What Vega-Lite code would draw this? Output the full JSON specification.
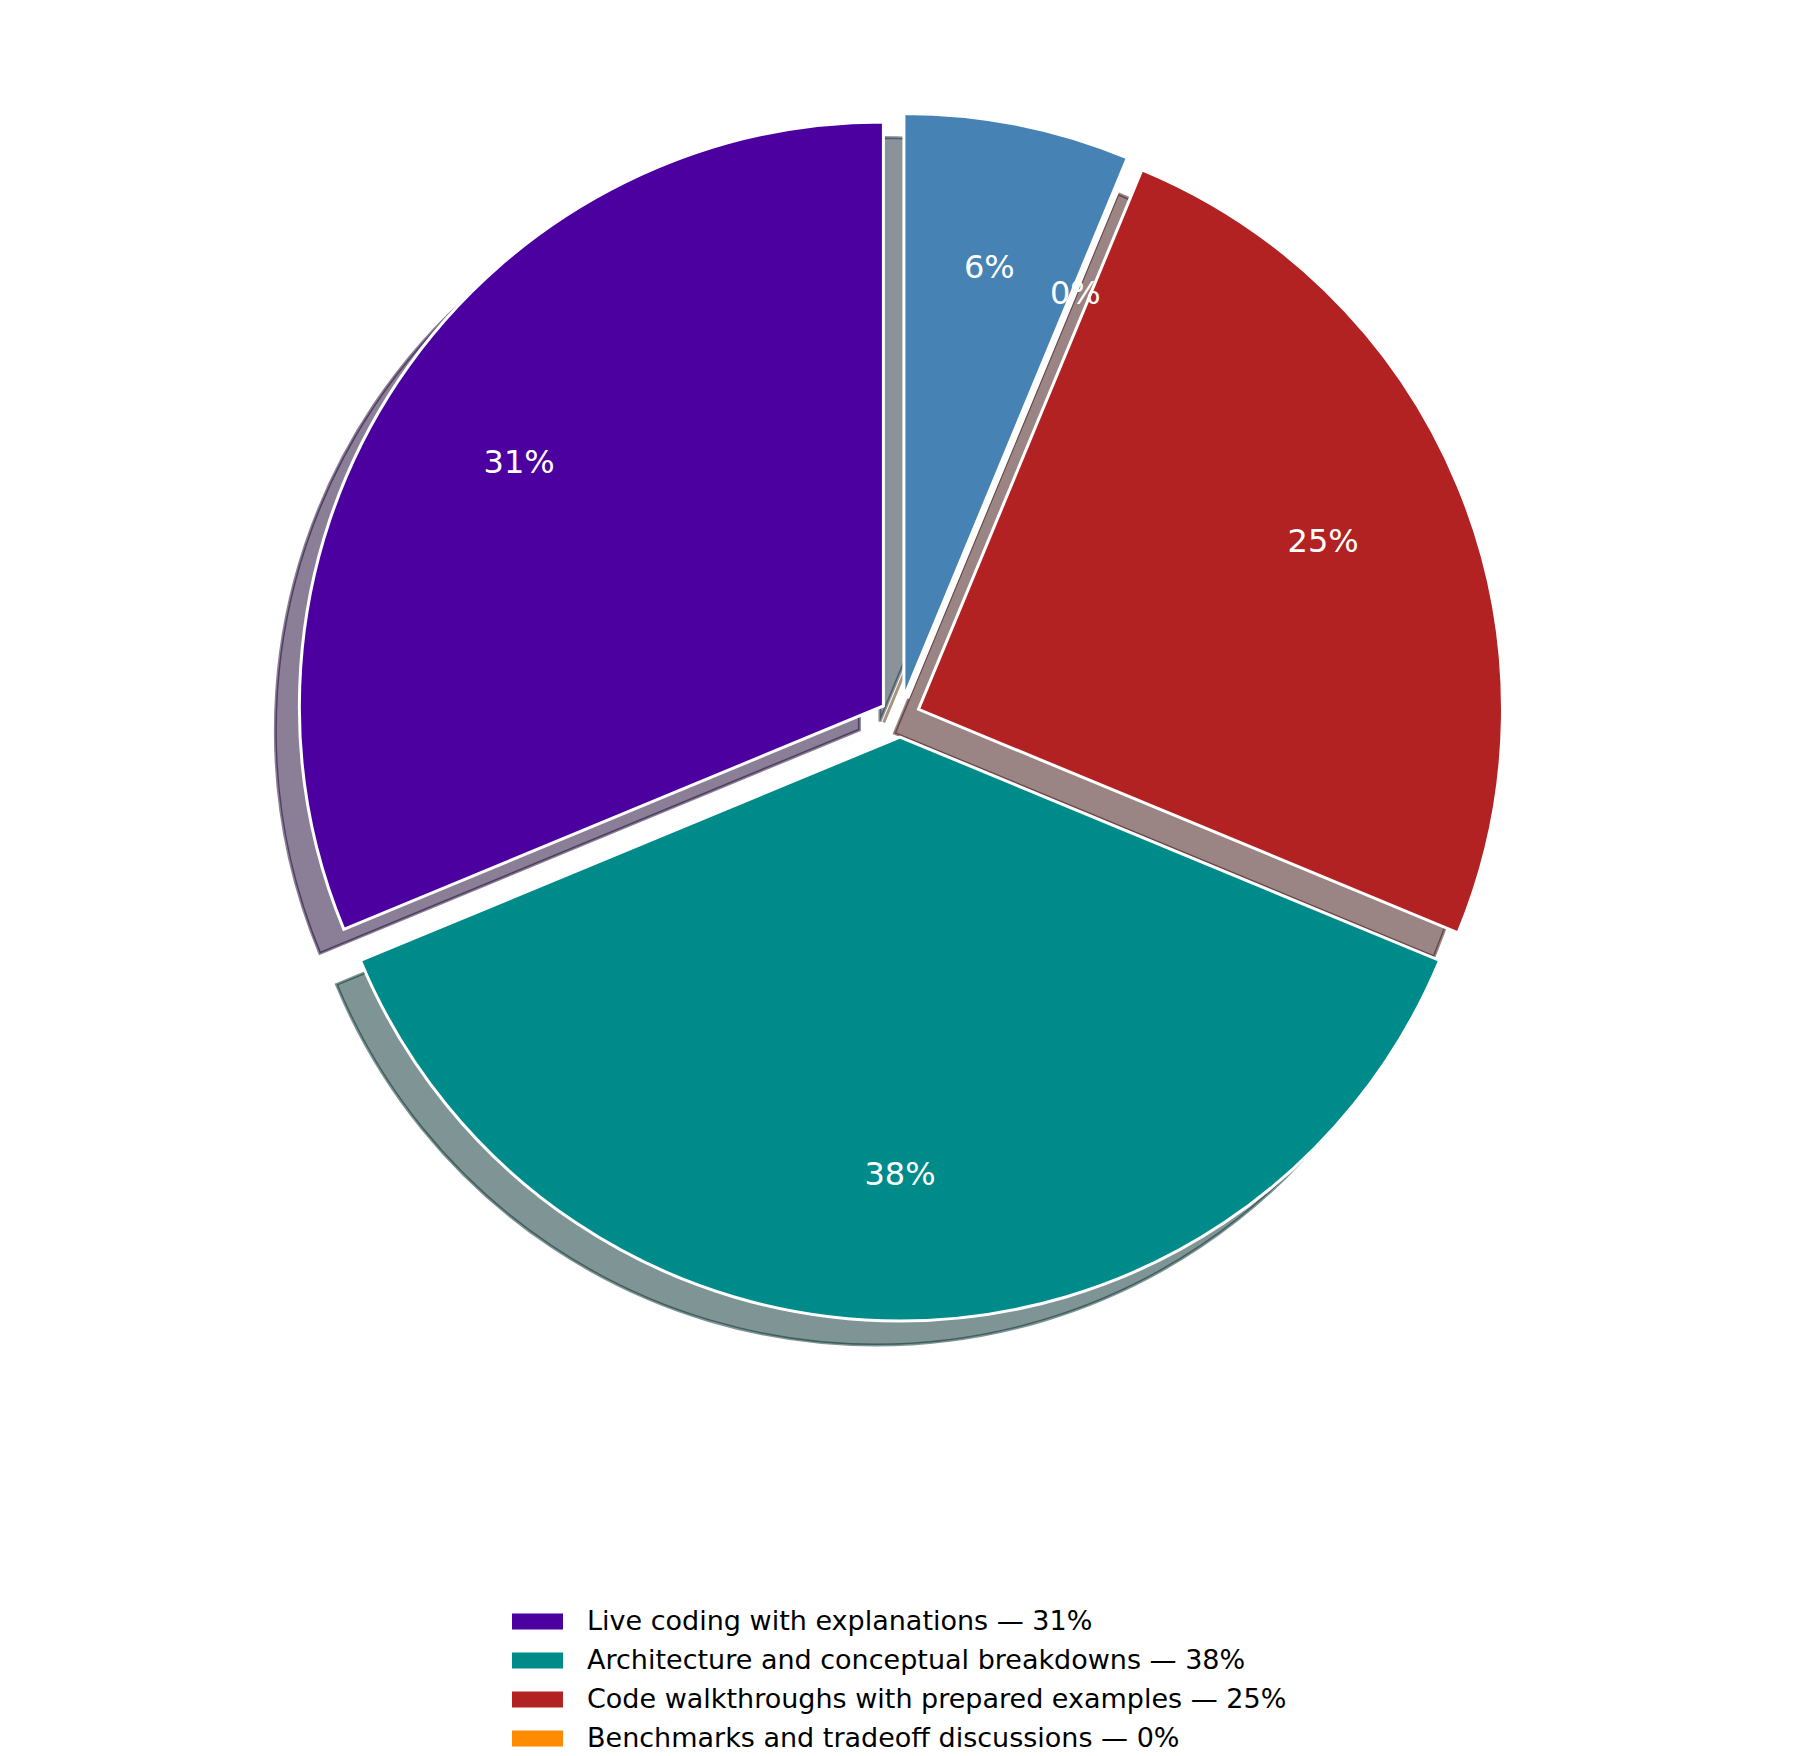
{
  "$schema": "https://vega.github.io/schema/vega-lite/v6.json",
  "width": 1800,
  "height": 1434,
  "autosize": "none",
  "padding": {"left": 0, "top": 0, "right": 0, "bottom": 322},
  "background": "white",
  "data": {
    "values": [
      {"session": "Other formats — 6%", "share": 0.0625, "ord": 1},
      {"session": "Benchmarks and tradeoff discussions — 0%", "share": 0, "ord": 2},
      {"session": "Code walkthroughs with prepared examples — 25%", "share": 0.25, "ord": 3},
      {"session": "Architecture and conceptual breakdowns — 38%", "share": 0.375, "ord": 4},
      {"session": "Live coding with explanations — 31%", "share": 0.3125, "ord": 5}
    ]
  },
  "transform": [
    {"stack": "share", "groupby": [], "sort": [{"field": "ord", "order": "ascending"}], "as": ["t0", "t1"]}
  ],
  "layer": [
    {
      "transform": [{"filter": "datum.ord == 5"}],
      "mark": {"type": "arc", "radius": 584, "fill": "#170030", "fillOpacity": 0.5, "stroke": "#170030", "strokeOpacity": 0.5, "strokeWidth": 3, "xOffset": -40.6, "yOffset": 12.9},
      "encoding": {
        "theta": {"field": "t0", "type": "quantitative", "scale": {"domain": [0, 1], "range": [0, 6.283185307179586]}},
        "theta2": {"field": "t1"}
      }
    },
    {
      "transform": [{"filter": "datum.ord == 4"}],
      "mark": {"type": "arc", "radius": 584, "fill": "#002a2a", "fillOpacity": 0.5, "stroke": "#002a2a", "strokeOpacity": 0.5, "strokeWidth": 3, "xOffset": -24, "yOffset": 44},
      "encoding": {
        "theta": {"field": "t0", "type": "quantitative"},
        "theta2": {"field": "t1"}
      }
    },
    {
      "transform": [{"filter": "datum.ord == 3"}],
      "mark": {"type": "arc", "radius": 584, "fill": "#350a0a", "fillOpacity": 0.5, "stroke": "#350a0a", "strokeOpacity": 0.5, "strokeWidth": 3, "xOffset": -5.5, "yOffset": 16.3},
      "encoding": {
        "theta": {"field": "t0", "type": "quantitative"},
        "theta2": {"field": "t1"}
      }
    },
    {
      "transform": [{"filter": "datum.ord == 2"}],
      "mark": {"type": "arc", "radius": 584, "fill": "#4d2a00", "fillOpacity": 0.5, "stroke": "#4d2a00", "strokeOpacity": 0.5, "strokeWidth": 3, "xOffset": -16.3, "yOffset": 5.5},
      "encoding": {
        "theta": {"field": "t0", "type": "quantitative"},
        "theta2": {"field": "t1"}
      }
    },
    {
      "transform": [{"filter": "datum.ord == 1"}],
      "mark": {"type": "arc", "radius": 584, "fill": "#152736", "fillOpacity": 0.5, "stroke": "#152736", "strokeOpacity": 0.5, "strokeWidth": 3, "xOffset": -20.1, "yOffset": 4.4},
      "encoding": {
        "theta": {"field": "t0", "type": "quantitative"},
        "theta2": {"field": "t1"}
      }
    },
    {
      "transform": [{"filter": "datum.ord == 5"}],
      "mark": {"type": "arc", "radius": 584, "stroke": "white", "strokeWidth": 3, "opacity": 1, "xOffset": -16.6, "yOffset": -11.1},
      "encoding": {
        "theta": {"field": "t0", "type": "quantitative"},
        "theta2": {"field": "t1"},
        "color": {
          "field": "session",
          "type": "nominal",
          "scale": {
            "domain": [
              "Live coding with explanations — 31%",
              "Architecture and conceptual breakdowns — 38%",
              "Code walkthroughs with prepared examples — 25%",
              "Benchmarks and tradeoff discussions — 0%",
              "Other formats — 6%"
            ],
            "range": ["#4c00a0", "#008b8b", "#b22222", "#ff8c00", "#4682b4"]
          },
          "legend": {
            "values": [
              "Live coding with explanations — 31%",
              "Architecture and conceptual breakdowns — 38%",
              "Code walkthroughs with prepared examples — 25%",
              "Benchmarks and tradeoff discussions — 0%"
            ]
          }
        }
      }
    },
    {
      "transform": [{"filter": "datum.ord == 4"}],
      "mark": {"type": "arc", "radius": 584, "stroke": "white", "strokeWidth": 3, "opacity": 1, "xOffset": 0, "yOffset": 20},
      "encoding": {
        "theta": {"field": "t0", "type": "quantitative"},
        "theta2": {"field": "t1"},
        "color": {"field": "session", "type": "nominal"}
      }
    },
    {
      "transform": [{"filter": "datum.ord == 3"}],
      "mark": {"type": "arc", "radius": 584, "stroke": "white", "strokeWidth": 3, "opacity": 1, "xOffset": 18.5, "yOffset": -7.7},
      "encoding": {
        "theta": {"field": "t0", "type": "quantitative"},
        "theta2": {"field": "t1"},
        "color": {"field": "session", "type": "nominal"}
      }
    },
    {
      "transform": [{"filter": "datum.ord == 2"}],
      "mark": {"type": "arc", "radius": 584, "stroke": "white", "strokeWidth": 3, "opacity": 1, "xOffset": 7.7, "yOffset": -18.5},
      "encoding": {
        "theta": {"field": "t0", "type": "quantitative"},
        "theta2": {"field": "t1"},
        "color": {"field": "session", "type": "nominal"}
      }
    },
    {
      "transform": [{"filter": "datum.ord == 1"}],
      "mark": {"type": "arc", "radius": 584, "stroke": "white", "strokeWidth": 3, "opacity": 1, "xOffset": 3.9, "yOffset": -19.6},
      "encoding": {
        "theta": {"field": "t0", "type": "quantitative"},
        "theta2": {"field": "t1"},
        "color": {"field": "session", "type": "nominal"}
      }
    },
    {
      "mark": {"type": "text", "radius": 458, "fill": "white", "font": "DejaVu Sans", "fontSize": 32, "align": "center", "baseline": "middle"},
      "encoding": {
        "theta": {"field": "share", "type": "quantitative", "stack": true},
        "order": {"field": "ord", "type": "quantitative"},
        "text": {"field": "share", "type": "quantitative", "format": ".0%"}
      }
    }
  ],
  "config": {
    "view": {"stroke": null},
    "legend": {
      "orient": "none",
      "legendX": 512,
      "legendY": 1596,
      "title": null,
      "labelFont": "DejaVu Sans",
      "labelFontSize": 27,
      "labelColor": "black",
      "labelLimit": 0,
      "labelOffset": 24,
      "rowPadding": 0,
      "symbolType": "M-1,-0.3137H1V0.3137H-1Z",
      "symbolSize": 2601,
      "symbolStrokeWidth": 0,
      "symbolOpacity": 1
    }
  }
}
